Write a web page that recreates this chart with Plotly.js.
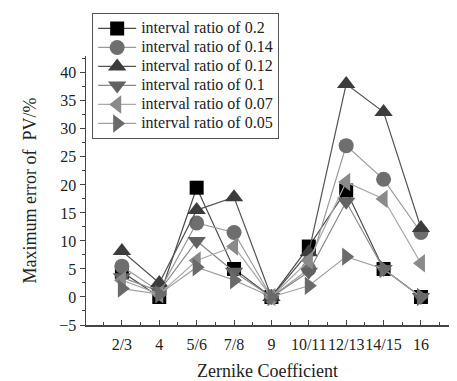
<!DOCTYPE html>
<html><head><meta charset="utf-8">
<script src="https://cdn.plot.ly/plotly-3.0.1.min.js"></script>
<style>html,body{margin:0;padding:0;background:#fff;}#chart{width:457px;height:381px;}</style>
</head><body><div id="chart"></div>
<script>
const categories = ["2/3","4","5/6","7/8","9","10/11","12/13","14/15","16"];
const seriesNames = ["interval ratio of 0.2","interval ratio of 0.14","interval ratio of 0.12","interval ratio of 0.1","interval ratio of 0.07","interval ratio of 0.05"];
const r020 = [4.5, 0, 19.5, 5, 0, 9, 19, 5, 0];
const r014 = [5.5, 1, 13.2, 11.5, 0, 5, 27, 21, 11.5];
const r012 = [8.2, 2.5, 15.5, 17.8, 0, 8, 38, 33, 12.3];
const r010 = [3.5, 1, 10, 4.5, 0, 4.5, 17, 5, 0];
const r007 = [3, 0.5, 6.5, 9, 0, 6.5, 20.5, 17.5, 6];
const r005 = [1.5, 0.5, 5.3, 3, 0, 2, 7.2, 5, 0];
const yTicks = [-5,0,5,10,15,20,25,30,35,40];

const values = [r020, r014, r012, r010, r007, r005];
const symbols = ["square","circle","triangle-up","triangle-down","triangle-left","triangle-right"];
const mColors = ["#000000","#6e6e6e","#3c3c3c","#626262","#8a8a8a","#6a6a6a"];
const lColors = ["#4a4a4a","#9a9a9a","#555555","#8a8a8a","#aaaaaa","#a0a0a0"];
const sizes = [14,15,16,16,16,16];
const xs = categories.map((c,i)=>i+1);

const traces = values.map((v,k)=>({
  x: xs, y: v, name: '<span style="font-size:16px">' + seriesNames[k] + '</span>',
  type:'scatter', mode:'lines+markers',
  line:{color:lColors[k], width:1.2},
  marker:{symbol:symbols[k], size:sizes[k], color:mColors[k], line:{width:0}}
}));

const font = {family:'"Liberation Serif", "Times New Roman", serif', color:'#222'};
const layout = {
  width:457, height:381,
  margin:{l:86, r:8, t:56, b:56},
  paper_bgcolor:'#fff', plot_bgcolor:'#fff',
  font: Object.assign({size:16}, font),
  showlegend:true,
  legend:{x:0.017, y:1.16, xanchor:'left', yanchor:'top', bordercolor:'#555', borderwidth:1,
    bgcolor:'rgba(255,255,255,1)', font:Object.assign({size:11.3}, font), tracegroupgap:0, itemwidth:38},
  xaxis:{range:[0.04, 9.75], tickvals:xs, ticktext:categories, tickangle:0, showgrid:false, zeroline:false,
    showline:true, linecolor:'#444', linewidth:1.5, ticks:'inside', ticklen:5, tickcolor:'#444',
    ticklabelstandoff:4,
    minor:{dtick:0.5, tick0:0.5, ticks:'inside', ticklen:3, tickcolor:'#444'},
    tickfont:Object.assign({size:16}, font),
    title:{text:'Zernike Coefficient', font:Object.assign({size:18}, font), standoff:14}},
  yaxis:{range:[-5, 43], tickvals:yTicks, showgrid:false, zeroline:false,
    showline:true, linecolor:'#444', linewidth:1.5, ticks:'outside', ticklen:5, tickcolor:'#444',
    minor:{dtick:2.5, ticks:'outside', ticklen:3, tickcolor:'#444'},
    tickfont:Object.assign({size:16}, font),
    title:{text:'Maximum error of  PV/%', font:Object.assign({size:18}, font), standoff:18}}
};
Plotly.newPlot('chart', traces, layout, {displayModeBar:false, staticPlot:true});
</script></body></html>
